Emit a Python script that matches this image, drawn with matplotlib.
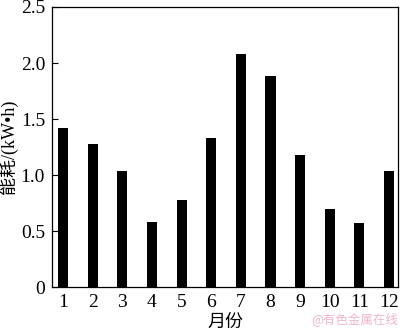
import matplotlib
matplotlib.use("Agg")
import matplotlib.pyplot as plt
import numpy as np

plt.rcParams['font.family'] = ['Liberation Serif', 'Noto Sans CJK SC', 'DejaVu Sans']

# 月份与能耗
months = [1, 2, 3, 4, 5, 6, 7, 8, 9, 10, 11, 12]
energy = [1.42, 1.28, 1.035, 0.58, 0.78, 1.33, 2.08, 1.885, 1.175, 0.70, 0.575, 1.035]
yticks = [0, 0.5, 1.0, 1.5, 2.0, 2.5]
ytick_labels = ['0', '0.5', '1.0', '1.5', '2.0', '2.5']

fig = plt.figure(figsize=(4, 3.33), dpi=100)
ax = fig.add_axes([0.13, 0.138, 0.865, 0.841])

ax.bar(months, energy, width=0.34, color='black')

ax.set_xlim(0.63, 12.3)
ax.set_ylim(0, 2.5)
ax.set_xticks(months)
ax.set_xticklabels([str(m) for m in months])
ax.set_yticks(yticks)
ax.set_yticklabels(ytick_labels)
ax.tick_params(axis='x', length=0, labelsize=14, pad=5)
ax.tick_params(axis='y', direction='in', length=4, labelsize=14, pad=5)
for s in ax.spines.values():
    s.set_linewidth(0.9)

ax.set_ylabel('能耗/(kW•h)', fontsize=13)
ax.yaxis.set_label_coords(-0.097, 0.5)
ax.set_xlabel('月份', fontsize=13, labelpad=2)

# 水印
fig.text(0.995, 0.02, '@有色金属在线', color='#f0b8c8', fontsize=9,
         ha='right', va='bottom', family=['Noto Sans CJK SC', 'DejaVu Sans'])

fig.savefig('out.png', dpi=100)
